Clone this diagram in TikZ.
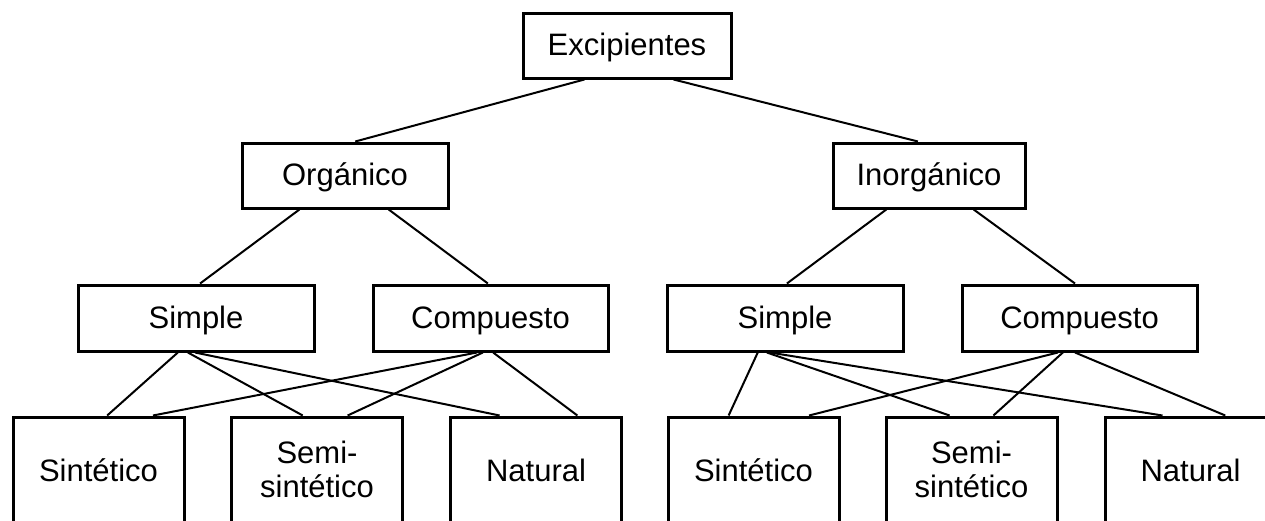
\documentclass[tikz,border=0pt]{standalone}
\usepackage{fontspec}
\setmainfont{Liberation Sans}
\usetikzlibrary{calc}
\newcommand\linkit[4]{\draw[conn] ($(#1.south west)!#2!(#1.south east)$) -- ($(#3.north west)!#4!(#3.north east)$);}
\begin{document}
\begin{tikzpicture}[x=1pt,y=-1pt,
  txt/.style={font=\fontsize{31}{34}\selectfont, align=center, inner sep=0pt},
  box/.style={draw=black, line width=3pt, rectangle, inner sep=0pt, fill=white,
    txt, text height=22pt, text depth=2pt},
  leaf/.style={draw=black, line width=3pt, rectangle, inner sep=0pt, fill=white,
    minimum width=171pt, minimum height=112pt},
  lbl/.style={txt, text height=22pt, text depth=0pt},
  lbltwo/.style={txt},
  conn/.style={line width=2pt, black}]
\clip (0,0) rectangle (1265,520);
\fill[white] (0,0) rectangle (1265,520);
% nodes
\node[box, minimum width=208pt, minimum height=65pt] (exc) at (627,45.5) {Excipientes};
\node[box, minimum width=206pt, minimum height=65pt] (org) at (345,175.5) {Orgánico};
\node[box, minimum width=192pt, minimum height=65pt] (inorg) at (929,175.5) {Inorgánico};
\node[box, minimum width=236pt, minimum height=66pt] (simL) at (196,318) {Simple};
\node[box, minimum width=235pt, minimum height=66pt] (comL) at (490.5,318) {Compuesto};
\node[box, minimum width=236pt, minimum height=66pt] (simR) at (785,318) {Simple};
\node[box, minimum width=235pt, minimum height=66pt] (comR) at (1079.5,318) {Compuesto};
\node[leaf] (sinL) at (98.5,473) {};
\node[leaf] (semL) at (317,473) {};
\node[leaf] (natL) at (536,473) {};
\node[leaf] (sinR) at (753.5,473) {};
\node[leaf] (semR) at (971.5,473) {};
\node[leaf] (natR) at (1190.5,473) {};
\node[lbl] (sinLt) at (98.5,470) {Sintético};
\node[lbltwo] (semLt) at (317,469) {Semi-\\sintético};
\node[lbl] (natLt) at (536,470) {Natural};
\node[lbl] (sinRt) at (753.5,470) {Sintético};
\node[lbltwo] (semRt) at (971.5,469) {Semi-\\sintético};
\node[lbl] (natRt) at (1190.5,470) {Natural};
% connectors
\linkit{exc}{0.298}{org}{0.549}
\linkit{exc}{0.721}{inorg}{0.443}
\linkit{org}{0.282}{simL}{0.517}
\linkit{org}{0.709}{comL}{0.489}
\linkit{inorg}{0.281}{simR}{0.508}
\linkit{inorg}{0.729}{comR}{0.481}
\linkit{simL}{0.424}{sinL}{0.55}
\linkit{simL}{0.466}{semL}{0.418}
\linkit{simL}{0.496}{natL}{0.291}
\linkit{comL}{0.443}{sinL}{0.813}
\linkit{comL}{0.468}{semL}{0.676}
\linkit{comL}{0.511}{natL}{0.738}
\linkit{simR}{0.386}{sinR}{0.357}
\linkit{simR}{0.424}{semR}{0.374}
\linkit{simR}{0.436}{natR}{0.339}
\linkit{comR}{0.409}{sinR}{0.819}
\linkit{comR}{0.430}{semR}{0.626}
\linkit{comR}{0.481}{natR}{0.70}
\end{tikzpicture}
\end{document}
